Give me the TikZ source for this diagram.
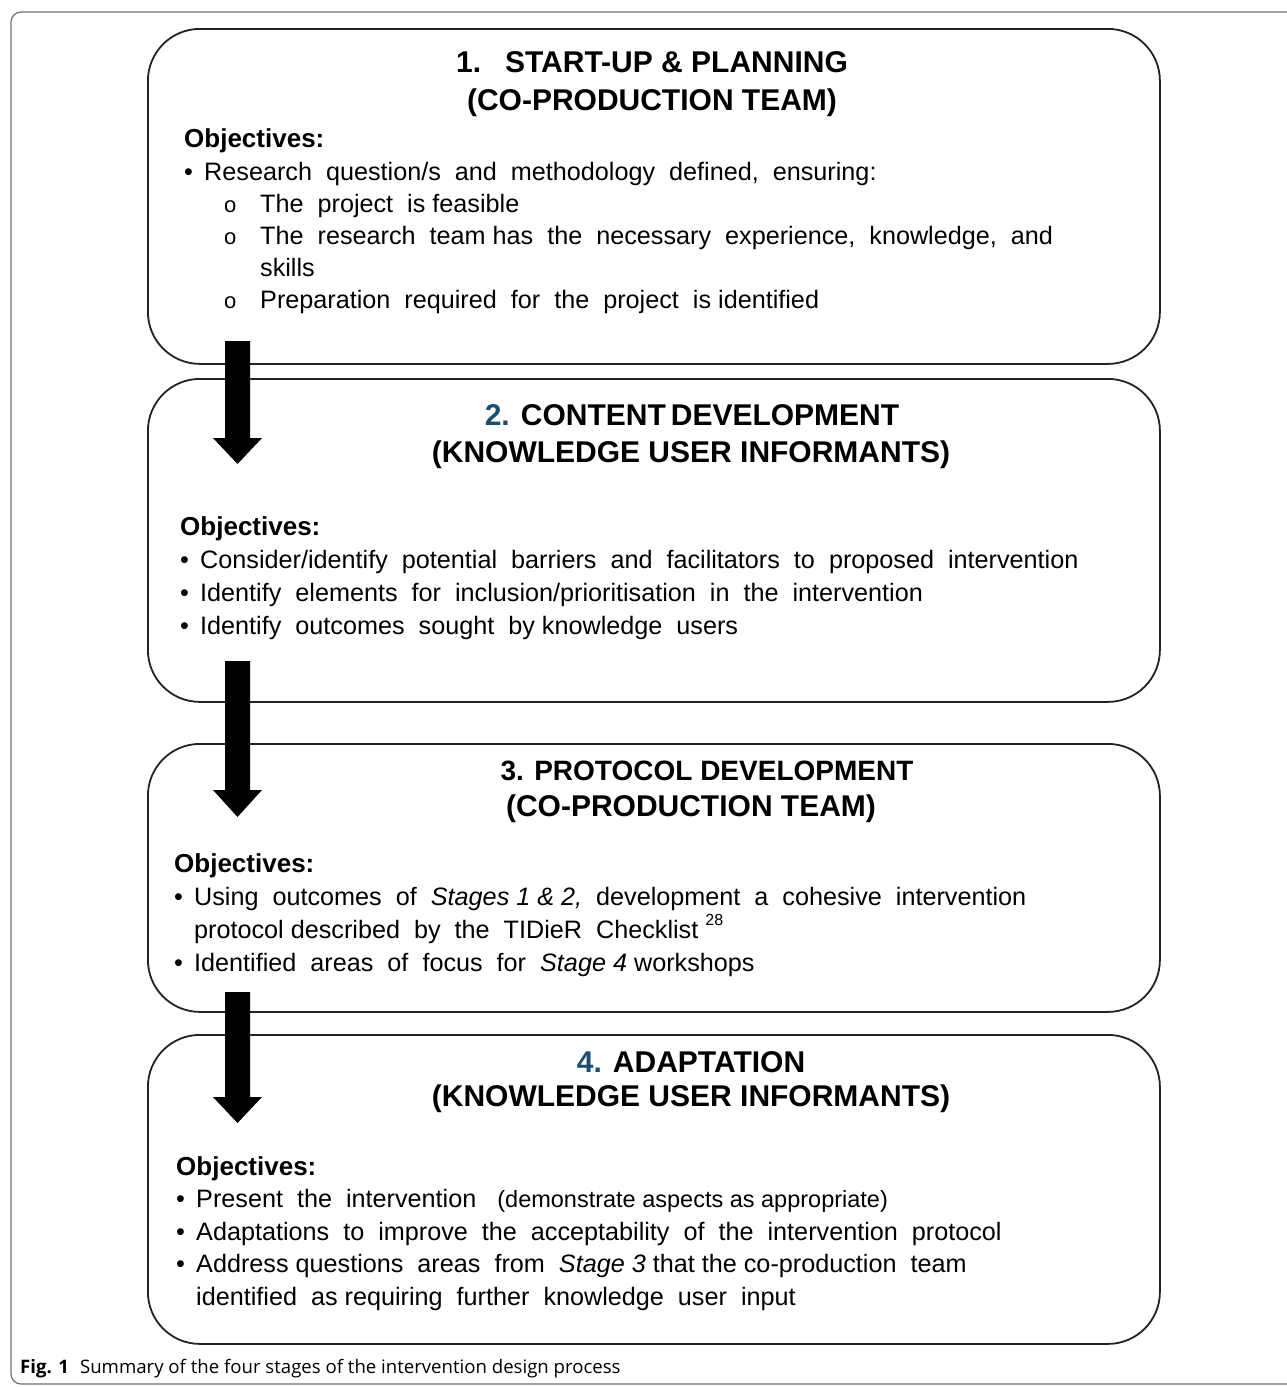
\documentclass[tikz,border=0pt]{standalone}
\usepackage{fontspec}
\setmainfont{Liberation Sans}
\newfontfamily\capfont{Open Sans}
\definecolor{numblue}{HTML}{1B4F72}
\definecolor{boxline}{HTML}{222222}
\definecolor{frameline}{HTML}{707070}
\newcommand{\hollow}{{\fontsize{22}{24}\selectfont o}}
\begin{document}
\begin{tikzpicture}[x=1pt,y=-1pt,
  stagebox/.style={draw=boxline, line width=1.8pt, rounded corners=52pt, minimum width=1012pt, anchor=north west, inner sep=0pt},
  ttl/.style={font=\fontsize{30}{34}\selectfont\bfseries, inner sep=0pt, anchor=base},
  body/.style={font=\fontsize{25.2}{29}\selectfont, inner sep=0pt, anchor=base west},
  obj/.style={body, font=\fontsize{26}{30}\selectfont\bfseries},
  blockarrow/.style={fill=black, draw=none},
  capt/.style={font=\capfont\fontsize{18.6}{22}\selectfont, inner sep=0pt, anchor=base west}]
\useasboundingbox (0,0) rectangle (1287,1387);
% outer frame
\draw[frameline, line width=1.2pt, rounded corners=10pt] (1300,12) -- (11,12) -- (11,1384) -- (1300,1384);

% stage boxes
\node[stagebox, minimum height=335pt] (s1) at (147,28) {};
\node[stagebox, minimum height=323pt] (s2) at (147,378) {};
\node[stagebox, minimum height=268pt] (s3) at (147,743) {};
\node[stagebox, minimum height=309pt] (s4) at (147,1034) {};

% stage 1 text
\node[ttl] (t1a) at (652,72) {1.\hspace{0.8em}START-UP \& PLANNING};
\node[ttl] (t1b) at (652,110) {(CO-PRODUCTION TEAM)};
\node[obj] (o1) at (184,147) {Objectives:};
\node[body] (b1a) at (184,180) {•};
\node[body] (l1a) at (204,180) {Research\ \ question/s\ \ and\ \ methodology\ \ defined,\ \ ensuring:};
\node[body] (b1b) at (224,212) {\hollow};
\node[body] (l1b) at (260,212) {The\ \ project\ \ is feasible};
\node[body] (b1c) at (224,244) {\hollow};
\node[body] (l1c) at (260,244) {The\ \ research\ \ team has\ \ the\ \ necessary\ \ experience,\ \ knowledge,\ \ and};
\node[body] (l1d) at (260,276) {skills};
\node[body] (b1e) at (224,308) {\hollow};
\node[body] (l1e) at (260,308) {Preparation\ \ required\ \ for\ \ the\ \ project\ \ is identified};

% stage 2 text
\node[ttl] (t2a) at (692,425) {\textcolor{numblue}{2.} CONTENT\,DEVELOPMENT};
\node[ttl] (t2b) at (691,462) {(KNOWLEDGE USER INFORMANTS)};
\node[obj] (o2) at (180,535) {Objectives:};
\node[body] (b2a) at (180,568) {•};
\node[body] (l2a) at (200,568) {Consider/identify\ \ potential\ \ barriers\ \ and\ \ facilitators\ \ to\ \ proposed\ \ intervention};
\node[body] (b2b) at (180,601) {•};
\node[body] (l2b) at (200,601) {Identify\ \ elements\ \ for\ \ inclusion/prioritisation\ \ in\ \ the\ \ intervention};
\node[body] (b2c) at (180,634) {•};
\node[body] (l2c) at (200,634) {Identify\ \ outcomes\ \ sought\ \ by knowledge\ \ users};

% stage 3 text
\node[ttl, font=\fontsize{28}{32}\selectfont\bfseries] (t3a) at (707,780) {3. PROTOCOL DEVELOPMENT};
\node[ttl] (t3b) at (691,816) {(CO-PRODUCTION TEAM)};
\node[obj] (o3) at (174,872) {Objectives:};
\node[body] (b3a) at (174,905) {•};
\node[body] (l3a) at (194,905) {Using\ \ outcomes\ \ of\ \ \textit{Stages 1 \& 2,}\ \ development\ \ a\ \ cohesive\ \ intervention};
\node[body] (l3b) at (194,938) {protocol described\ \ by\ \ the\ \ TIDieR\ \ Checklist\ \raisebox{0.5em}{\fontsize{16}{17}\selectfont 28}};
\node[body] (b3c) at (174,971) {•};
\node[body] (l3c) at (194,971) {Identified\ \ areas\ \ of\ \ focus\ \ for\ \ \textit{Stage 4} workshops};

% stage 4 text
\node[ttl] (t4a) at (691,1072) {\textcolor{numblue}{4.} ADAPTATION};
\node[ttl] (t4b) at (691,1106) {(KNOWLEDGE USER INFORMANTS)};
\node[obj] (o4) at (176,1175) {Objectives:};
\node[body] (b4a) at (176,1207) {•};
\node[body] (l4a) at (196,1207) {Present\ \ the\ \ intervention\ \ \ {\fontsize{23.5}{27}\selectfont (demonstrate aspects as appropriate)}};
\node[body] (b4b) at (176,1240) {•};
\node[body] (l4b) at (196,1240) {Adaptations\ \ to\ \ improve\ \ the\ \ acceptability\ \ of\ \ the\ \ intervention\ \ protocol};
\node[body] (b4c) at (176,1272) {•};
\node[body] (l4c) at (196,1272) {Address questions\ \ areas\ \ from\ \ \textit{Stage 3} that the co-production\ \ team};
\node[body] (l4d) at (196,1305) {identified\ \ as\ requiring\ \ further\ \ knowledge\ \ user\ \ input};

% block arrows
\fill[blockarrow] (225,341) -- (250,341) -- (250,438) -- (262,438) -- (237.5,464) -- (213,438) -- (225,438) -- cycle;
\fill[blockarrow] (225,661) -- (250,661) -- (250,790) -- (262,790) -- (237.5,817) -- (213,790) -- (225,790) -- cycle;
\fill[blockarrow] (225,992) -- (250,992) -- (250,1097) -- (262,1097) -- (237.5,1123) -- (213,1097) -- (225,1097) -- cycle;

% caption
\node[capt] (cap) at (20,1373) {\textbf{Fig. 1}\hspace{0.6em}Summary of the four stages of the intervention design process};
\end{tikzpicture}
\end{document}
